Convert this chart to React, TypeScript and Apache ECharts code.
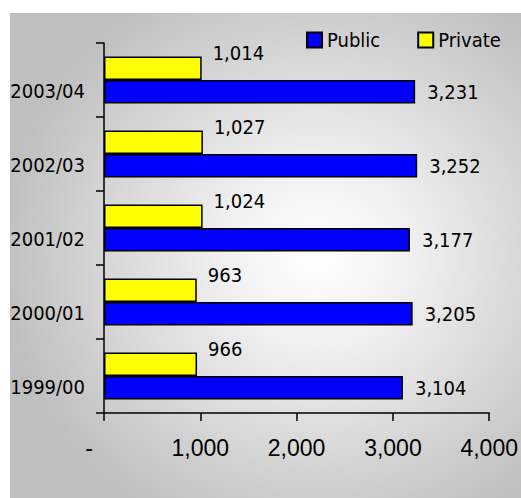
import React, { useEffect, useRef } from "react";
import * as echarts from "echarts";

const categories = ["1999/00", "2000/01", "2001/02", "2002/03", "2003/04"];
const publicValues = [3104, 3205, 3177, 3252, 3231];
const privateValues = [966, 963, 1024, 1027, 1014];
const xTicks = [0, 1000, 2000, 3000, 4000];

const NARROW = "'Liberation Sans Narrow', 'Arial Narrow', 'DejaVu Sans Condensed', sans-serif";
const REGULAR = "'Liberation Sans', Arial, sans-serif";

const fmt = (v: number) => v.toLocaleString("en-US");

export default function App() {
  const ref = useRef<HTMLDivElement>(null);
  useEffect(() => {
    if (!ref.current) return;
    const chart = echarts.init(ref.current, null, { renderer: "svg" });
    chart.setOption({
      animation: false,
      backgroundColor: "#ffffff",
      graphic: [
        {
          type: "rect",
          z: -100,
          silent: true,
          shape: { x: 10, y: 13, width: 511, height: 485 },
          style: {
            fill: new echarts.graphic.RadialGradient(0.6, 0.5, 0.62, [
              { offset: 0, color: "#ffffff" },
              { offset: 0.3, color: "#f0f0f0" },
              { offset: 1, color: "#bfbfbf" },
            ]),
          },
        },
      ],
      legend: {
        data: ["Public", "Private"],
        left: 306,
        top: 30,
        padding: 0,
        itemWidth: 15,
        itemHeight: 15,
        itemGap: 37,
        icon: "rect",
        textStyle: { fontFamily: NARROW, fontSize: 20, color: "#000" },
      },
      grid: { left: 104, right: 30, top: 43, bottom: 85, containLabel: false },
      xAxis: {
        type: "value",
        min: xTicks[0],
        max: xTicks[xTicks.length - 1],
        interval: 1000,
        splitLine: { show: false },
        axisLine: { show: true, lineStyle: { color: "#000", width: 1.5 } },
        axisTick: { show: true, length: 8, lineStyle: { color: "#000", width: 1.5 } },
        axisLabel: {
          margin: 23,
          fontFamily: REGULAR,
          fontSize: 23,
          color: "#000",
          formatter: (v: number) => (v === 0 ? "{d|-}" : fmt(v)),
          rich: {
            d: { fontFamily: REGULAR, fontSize: 23, color: "#000", padding: [0, 30, 0, 0] },
          },
        },
      },
      yAxis: {
        type: "category",
        data: categories,
        axisLine: { show: true, lineStyle: { color: "#000", width: 1.5 } },
        axisTick: { show: true, length: 8, lineStyle: { color: "#000", width: 1.5 } },
        axisLabel: {
          margin: 19,
          fontFamily: NARROW,
          fontSize: 20,
          color: "#000",
          verticalAlign: "top",
          lineHeight: 22,
        },
      },
      series: [
        {
          name: "Private",
          type: "bar",
          data: privateValues,
          barWidth: 23.5,
          barGap: "0%",
          itemStyle: { color: "#ffff00", borderColor: "#000", borderWidth: 1.5 },
          label: {
            show: true,
            position: "right",
            distance: 11,
            offset: [0, -15],
            fontFamily: NARROW,
            fontSize: 20,
            color: "#000",
            formatter: (p: any) => fmt(p.value),
          },
        },
        {
          name: "Public",
          type: "bar",
          data: publicValues,
          barWidth: 23.5,
          barGap: "0%",
          itemStyle: { color: "#0000ff", borderColor: "#000", borderWidth: 1.5 },
          label: {
            show: true,
            position: "right",
            distance: 12,
            fontFamily: NARROW,
            fontSize: 20,
            color: "#000",
            formatter: (p: any) => fmt(p.value),
          },
        },
      ],
    });
    return () => chart.dispose();
  }, []);
  return (
    <div
      ref={ref}
      style={{ position: "absolute", left: 0, top: 0, width: 521, height: 498 }}
    />
  );
}
